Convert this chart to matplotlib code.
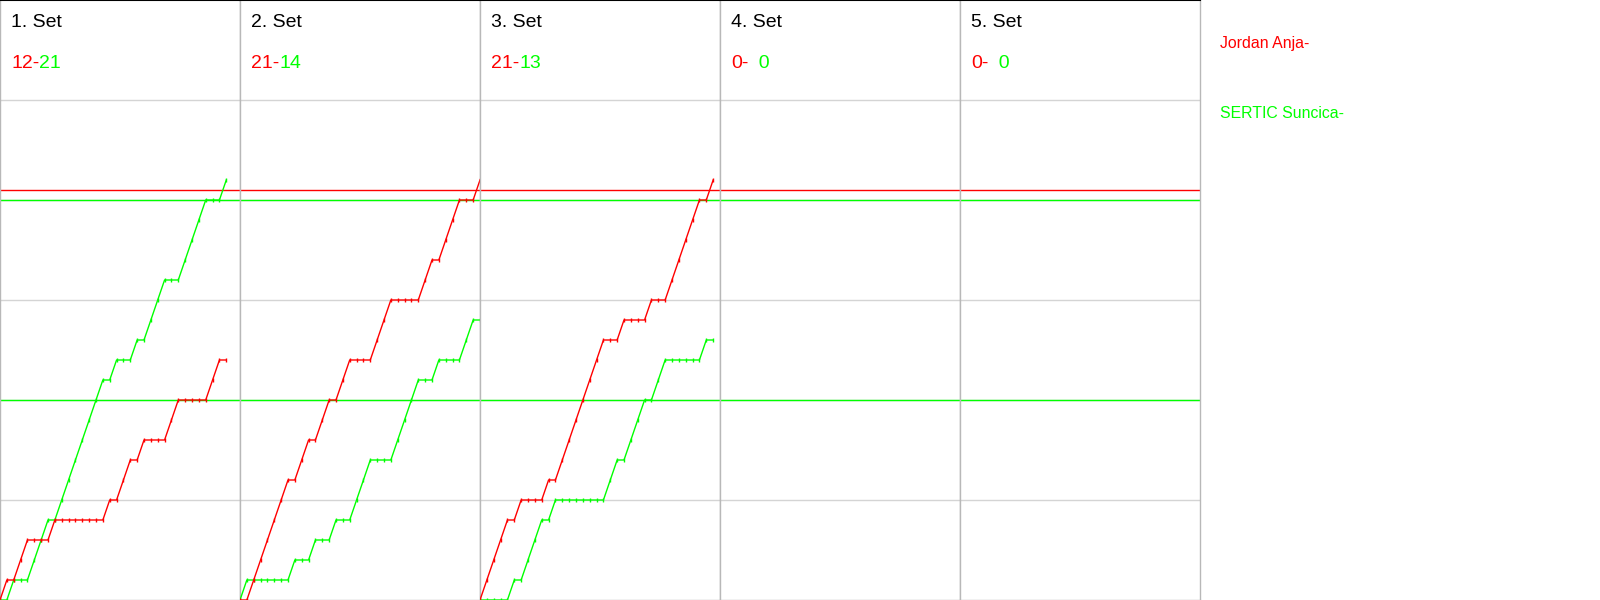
import matplotlib
matplotlib.use("Agg")
import matplotlib.pyplot as plt

plt.rcParams['font.family'] = ['Liberation Sans', 'DejaVu Sans']

RED = '#ff0000'
GREEN = '#00ff00'

players = ["Jordan Anja-", "SERTIC Suncica-"]
set_titles = ["1. Set", "2. Set", "3. Set", "4. Set", "5. Set"]
red_labels = ["12-", "21-", "21-", "0-", "0-"]
green_labels = ["21", "14", "13", "  0", "  0"]

# running score after each rally (index 0 = start of set)
red_set1 = [0, 1, 1, 2, 3, 3, 3, 3, 4, 4, 4, 4, 4, 4, 4, 4, 5, 5, 6, 7, 7, 8, 8, 8, 8, 9, 10, 10, 10, 10, 10, 11, 12, 12]
green_set1 = [0, 0, 1, 1, 1, 2, 3, 4, 4, 5, 6, 7, 8, 9, 10, 11, 11, 12, 12, 12, 13, 13, 14, 15, 16, 16, 16, 17, 18, 19, 20, 20, 20, 21]
red_set2 = [0, 0, 1, 2, 3, 4, 5, 6, 6, 7, 8, 8, 9, 10, 10, 11, 12, 12, 12, 12, 13, 14, 15, 15, 15, 15, 15, 16, 17, 17, 18, 19, 20, 20, 20, 21]
green_set2 = [0, 1, 1, 1, 1, 1, 1, 1, 2, 2, 2, 3, 3, 3, 4, 4, 4, 5, 6, 7, 7, 7, 7, 8, 9, 10, 11, 11, 11, 12, 12, 12, 12, 13, 14, 14]
red_set3 = [0, 1, 2, 3, 4, 4, 5, 5, 5, 5, 6, 6, 7, 8, 9, 10, 11, 12, 13, 13, 13, 14, 14, 14, 14, 15, 15, 15, 16, 17, 18, 19, 20, 20, 21]
green_set3 = [0, 0, 0, 0, 0, 1, 1, 2, 3, 4, 4, 5, 5, 5, 5, 5, 5, 5, 5, 6, 7, 7, 8, 9, 10, 10, 11, 12, 12, 12, 12, 12, 12, 13, 13]

red_sets = [red_set1, red_set2, red_set3, [], []]
green_sets = [green_set1, green_set2, green_set3, [], []]

# reference lines
red_line = 20.5
green_lines = [20, 10]

fig = plt.figure(figsize=(16, 6), dpi=100)

for i in range(5):
    ax = fig.add_axes([i * 0.15, 0.0, 0.15, 1.0])
    ax.set_xlim(0, 35)
    ax.set_ylim(0, 30)
    ax.set_yticks([5, 10, 15, 20, 25])
    ax.set_xticks([])
    ax.grid(axis='y', color='#d4d4d4', linewidth=1.0)
    ax.tick_params(left=False, labelleft=False, bottom=False, labelbottom=False)
    for side in ['left', 'right', 'bottom']:
        ax.spines[side].set_color('#b8b8b8')
        ax.spines[side].set_linewidth(1.0)
    ax.spines['top'].set_color('black')
    ax.spines['top'].set_linewidth(1.5)

    ax.axhline(red_line, color=RED, lw=1.0, zorder=2)
    for g in green_lines:
        ax.axhline(g, color=GREEN, lw=1.0, zorder=2)

    if green_sets[i]:
        ax.plot(range(len(green_sets[i])), green_sets[i], color=GREEN, lw=1.0,
                marker='|', markersize=2.5, markeredgewidth=1.0, zorder=3, clip_on=True)
    if red_sets[i]:
        ax.plot(range(len(red_sets[i])), red_sets[i], color=RED, lw=1.0,
                marker='|', markersize=2.5, markeredgewidth=1.0, zorder=3, clip_on=True)

    ax.text(0.046, 0.962, set_titles[i], transform=ax.transAxes, fontsize=14,
            color='black', va='center', ha='left')
    rt = ax.text(0.046, 0.895, red_labels[i], transform=ax.transAxes, fontsize=14,
                 color=RED, va='center', ha='left')
    ax.annotate(green_labels[i], xy=(1, 0.5), xycoords=rt, fontsize=14,
                color=GREEN, va='center', ha='left')

fig.text(0.7625, 0.928, players[0], color=RED, fontsize=11.4, va='center', ha='left')
fig.text(0.7625, 0.81, players[1], color=GREEN, fontsize=11.4, va='center', ha='left')

fig.savefig("out.png", dpi=100)
